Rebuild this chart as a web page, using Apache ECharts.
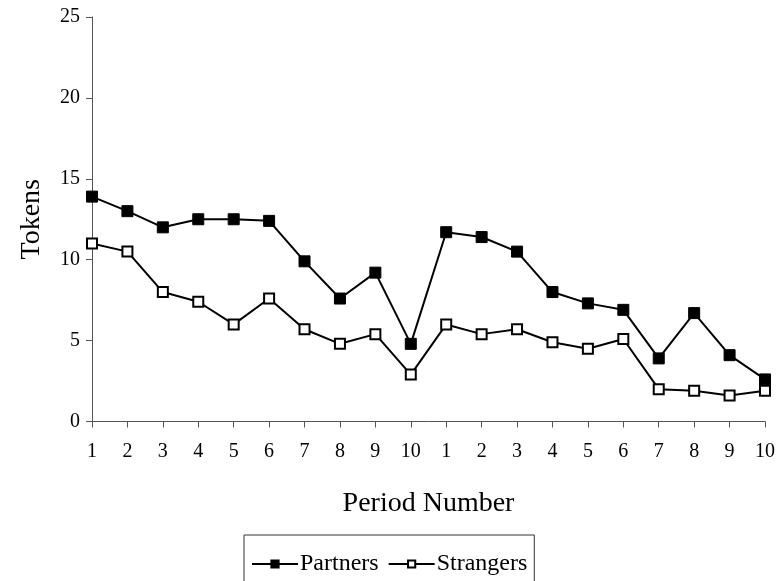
<!DOCTYPE html>
<html><head><meta charset="utf-8">
<script src="https://cdn.jsdelivr.net/npm/echarts@6/dist/echarts.min.js"></script>
<style>html,body{margin:0;padding:0;background:#fff}#c{width:780px;height:581px}</style>
</head><body><div id="c"></div>
<script>
var periods = ['1','2','3','4','5','6','7','8','9','10','1','2','3','4','5','6','7','8','9','10'];
var partners = [13.9,13.0,12.0,12.5,12.5,12.4,9.9,7.6,9.2,4.8,11.7,11.4,10.5,8.0,7.3,6.9,3.9,6.7,4.1,2.6];
var strangers = [11.0,10.5,8.0,7.4,6.0,7.6,5.7,4.8,5.4,2.9,6.0,5.4,5.7,4.9,4.5,5.1,2.0,1.9,1.6,1.9];
var yTicks = [0,5,10,15,20,25];

var font = '"Liberation Serif","DejaVu Serif",serif';
var chart = echarts.init(document.getElementById('c'));
chart.setOption({
  animation:false,
  textStyle:{fontFamily:font,color:'#000'},
  grid:{left:92,right:15,top:17,bottom:159.5,containLabel:false,outerBoundsMode:'none'},
  xAxis:{
    type:'category', data:periods, boundaryGap:false,
    name:'Period Number', nameLocation:'middle', nameGap:68,
    nameTextStyle:{fontFamily:font,fontSize:28,color:'#000'},
    axisLine:{lineStyle:{color:'#555',width:1}},
    axisTick:{show:true,length:6,lineStyle:{color:'#555'},alignWithLabel:true},
    axisLabel:{fontFamily:font,fontSize:20,color:'#000',margin:20,interval:0},
    splitLine:{show:false}
  },
  yAxis:{
    type:'value', min:yTicks[0], max:yTicks[yTicks.length-1], interval:5,
    name:'Tokens', nameLocation:'middle', nameGap:46, nameRotate:90,
    nameTextStyle:{fontFamily:font,fontSize:28,color:'#000'},
    axisLine:{show:true,lineStyle:{color:'#555',width:1}},
    axisTick:{show:true,length:6,lineStyle:{color:'#555'}},
    axisLabel:{fontFamily:font,fontSize:20,color:'#000',margin:12},
    splitLine:{show:false}
  },
  legend:{
    left:244, top:535, width:291,
    padding:[17,7,30,7],
    borderColor:'#333', borderWidth:1,
    itemWidth:46, itemHeight:9, itemGap:9,
    textStyle:{fontFamily:font,fontSize:24,color:'#000',padding:[0,0,0,-3]},
    data:['Partners','Strangers']
  },
  series:[
    {name:'Partners', type:'line', data:partners, symbol:'rect', symbolSize:11,
     lineStyle:{color:'#000',width:2}, itemStyle:{color:'#000',borderColor:'#000',borderWidth:1}},
    {name:'Strangers', type:'line', data:strangers, symbol:'rect', symbolSize:10,
     lineStyle:{color:'#000',width:2}, itemStyle:{color:'#fff',borderColor:'#000',borderWidth:2}}
  ]
});
</script></body></html>
